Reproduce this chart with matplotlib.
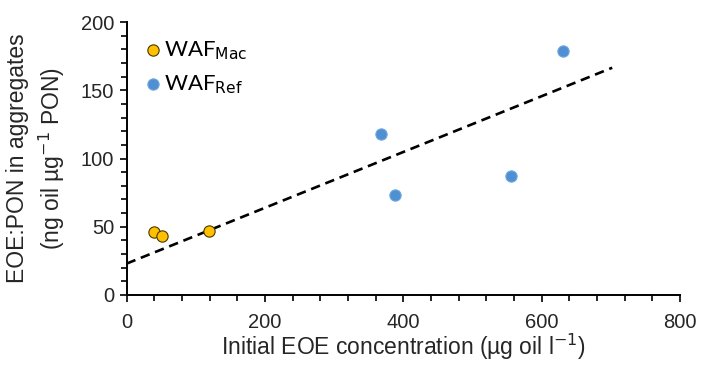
import matplotlib
matplotlib.use("Agg")
import matplotlib.pyplot as plt
from matplotlib.ticker import MultipleLocator

# Data
mac_x = [39.6, 51.6, 119.0]
mac_y = [46.4, 43.2, 46.9]
ref_x = [367.6, 387.9, 555.5, 631.1]
ref_y = [117.7, 73.5, 87.4, 179.0]
trend_x = [0, 702]
trend_y = [23.0, 166.5]

x_ticks = [0, 200, 400, 600, 800]
y_ticks = [0, 50, 100, 150, 200]

plt.rcParams['font.family'] = ['Liberation Sans', 'DejaVu Sans']
txt = '#262626'

fig = plt.figure(figsize=(7.01, 3.66), dpi=100)
ax = fig.add_axes([126.6/701, 1-295/366, (680-126.6)/701, (295-22)/366])

ax.plot(trend_x, trend_y, color='black', lw=1.9, dashes=(3.6, 2.2), zorder=2)
ax.scatter(mac_x, mac_y, s=66, color='#FFC000', edgecolor='#4a3800', linewidth=0.8,
           zorder=3, label='WAF$_{\\mathrm{Mac}}$')
ax.scatter(ref_x, ref_y, s=66, color='#4F90D2', edgecolor='#70A8DD', linewidth=0.8,
           zorder=3, label='WAF$_{\\mathrm{Ref}}$')

ax.set_xlim(0, 800)
ax.set_ylim(0, 200)
ax.set_xticks(x_ticks)
ax.set_yticks(y_ticks)
ax.xaxis.set_minor_locator(MultipleLocator(40))
ax.yaxis.set_minor_locator(MultipleLocator(10))
for s in ['top', 'right']:
    ax.spines[s].set_visible(False)
for s in ['left', 'bottom']:
    ax.spines[s].set_linewidth(1.4)
    ax.spines[s].set_color('black')
ax.tick_params(which='both', direction='out', width=1.2, color='black',
               labelsize=14.5, labelcolor=txt)
ax.tick_params(which='major', length=5)
ax.tick_params(which='minor', length=4)
ax.tick_params(axis='x', which='major', pad=8)
ax.tick_params(axis='y', which='major', pad=4)

ax.set_xlabel('Initial EOE concentration (µg oil l$^{-1}$)', fontsize=16.5, color=txt, labelpad=0)
ax.set_ylabel('EOE:PON in aggregates\n(ng oil µg$^{-1}$ PON)', fontsize=16.5, color=txt,
              labelpad=10, linespacing=1.35)

leg = ax.legend(loc='upper left', bbox_to_anchor=(-0.008, 1.01), frameon=False,
                handletextpad=0.0, handlelength=1.0, labelspacing=0.5,
                prop={'family': 'Lato', 'size': 16}, scatterpoints=1)

fig.savefig('out.png', dpi=100)
